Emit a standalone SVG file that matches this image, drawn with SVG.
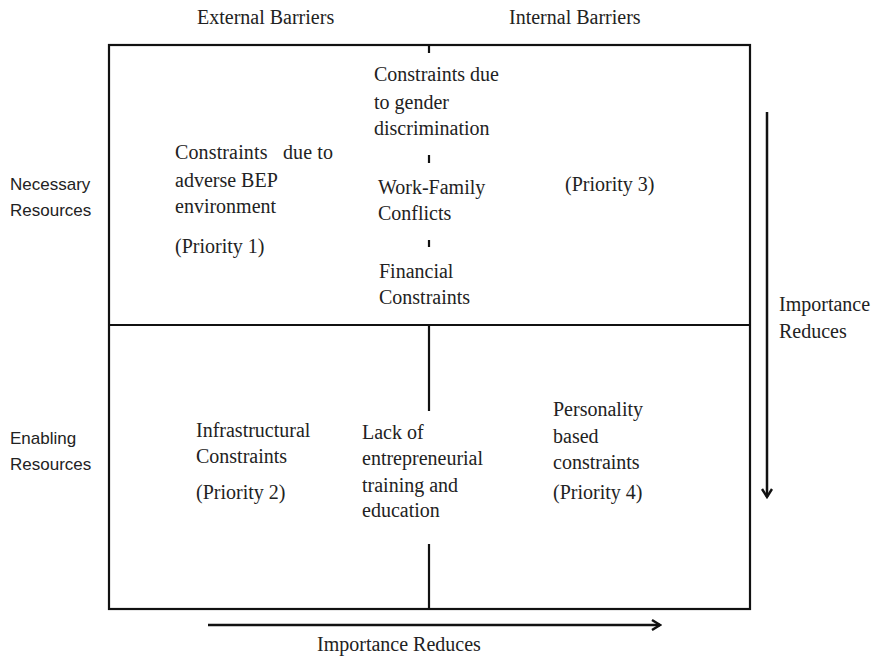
<svg xmlns="http://www.w3.org/2000/svg" width="873" height="656" viewBox="0 0 873 656">
<style>
.t{font-family:"Liberation Serif","Times New Roman",serif;font-size:20px;fill:#222}
.s{font-family:"Liberation Sans",Arial,sans-serif;font-size:17px;fill:#222}
.ln{stroke:#111;stroke-width:2.2;fill:none}
.ar{stroke:#111;stroke-width:2.5;fill:none}
</style>
<defs>
<marker id="chev" viewBox="0 0 12 12" refX="10" refY="6" markerWidth="12" markerHeight="12" markerUnits="userSpaceOnUse" orient="auto">
<path d="M2,1 L10,6 L2,11" stroke="#111" stroke-width="2.4" fill="none"/>
</marker>
</defs>
<g id="frame">
<rect x="109" y="45" width="641" height="564" class="ln"/>
</g>
<g id="connectors">
<line x1="109" y1="325" x2="750" y2="325" class="ln"/>
<line x1="429" y1="45" x2="429" y2="53" class="ln"/>
<line x1="429" y1="155" x2="429" y2="163" class="ln"/>
<line x1="429" y1="240" x2="429" y2="247" class="ln"/>
<line x1="429" y1="325" x2="429" y2="411" class="ln"/>
<line x1="429" y1="544" x2="429" y2="609" class="ln"/>
<line x1="767" y1="112" x2="767" y2="497" class="ar" marker-end="url(#chev)"/>
<line x1="208" y1="625" x2="660" y2="625" class="ar" marker-end="url(#chev)"/>
</g>
<g id="header-external"><text class="t" x="197" y="24">External Barriers</text></g>
<g id="header-internal"><text class="t" x="509" y="24">Internal Barriers</text></g>
<g id="row-necessary"><text class="s" x="10" y="190">Necessary</text><text class="s" x="10" y="216">Resources</text></g>
<g id="row-enabling"><text class="s" x="10" y="444">Enabling</text><text class="s" x="10" y="470">Resources</text></g>
<g id="q1">
<text class="t" x="175" y="159" xml:space="preserve" textLength="158" lengthAdjust="spacing">Constraints   due to</text>
<text class="t" x="175" y="187">adverse BEP</text>
<text class="t" x="175" y="213">environment</text>
<text class="t" x="175" y="253">(Priority 1)</text>
</g>
<g id="center-top">
<text class="t" x="374" y="81">Constraints due</text>
<text class="t" x="374" y="109">to gender</text>
<text class="t" x="374" y="135">discrimination</text>
<text class="t" x="378" y="194">Work-Family</text>
<text class="t" x="378" y="220">Conflicts</text>
<text class="t" x="379" y="278">Financial</text>
<text class="t" x="379" y="304">Constraints</text>
</g>
<g id="q3"><text class="t" x="565" y="191">(Priority 3)</text></g>
<g id="q2">
<text class="t" x="196" y="437">Infrastructural</text>
<text class="t" x="196" y="463">Constraints</text>
<text class="t" x="196" y="499">(Priority 2)</text>
</g>
<g id="center-bottom">
<text class="t" x="362" y="439">Lack of</text>
<text class="t" x="362" y="465">entrepreneurial</text>
<text class="t" x="362" y="492">training and</text>
<text class="t" x="362" y="517">education</text>
</g>
<g id="q4">
<text class="t" x="553" y="416">Personality</text>
<text class="t" x="553" y="443">based</text>
<text class="t" x="553" y="469">constraints</text>
<text class="t" x="553" y="499">(Priority 4)</text>
</g>
<g id="label-vertical"><text class="t" x="779" y="311">Importance</text><text class="t" x="779" y="338">Reduces</text></g>
<g id="label-horizontal"><text class="t" x="317" y="651">Importance Reduces</text></g>
</svg>
